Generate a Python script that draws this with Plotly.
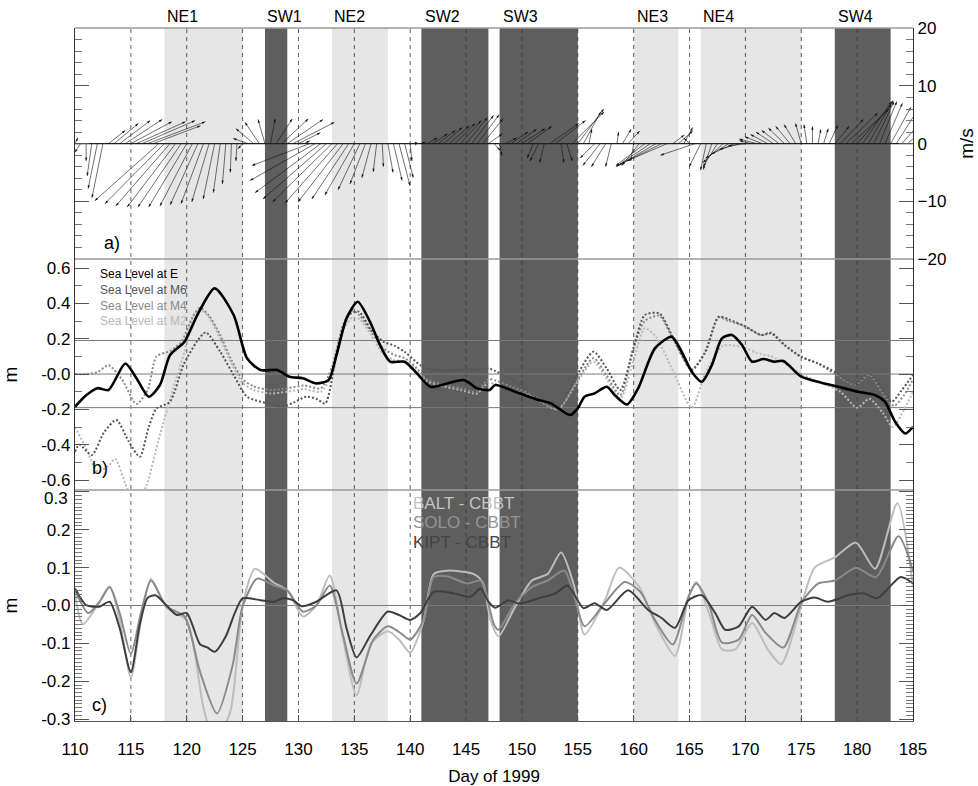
import math
import plotly.graph_objects as go

# ---------------- Panel a: wind sticks (m/s), every 0.5 day from day 110 ----------------
wind_u = [
    0.5, -1.0,   0.0, -0.8,   -1.6, -1.9,   2.9, 4.2,   5.3, 6.4,      # 110-114
    7.1, 8.5,    9.2, 10.0,   8.2, -11.1,   -10.3, -9.4, -8.4, -7.5,   # 115-119
    -6.6, -5.6,  -4.8, -3.9,  -3.0, -2.0,   -1.2, -0.6,  -0.2, -0.2,   # 120-124
    -0.8, -2.6,  -3.1, -2.5,  -1.2, 0.8,    2.8, 4.6,    6.2, 7.2,     # 125-129
    3.8, 1.0,    -10.0, -11.3, -11.4, -11.0, -10.3, -9.1, -7.8, -6.4,  # 130-134
    -5.1, -3.8,  -2.7, -1.6,  -0.6, 0.2,    0.9, 1.5,    1.9, 1.5,     # 135-139
    0.3, 0.0,    0.7, 1.8,    2.6, 3.0,     3.2, 3.5,    3.5, 3.6,     # 140-144
    3.7, 3.8,    3.8, 3.5,    2.4, 1.1,     0.4, 2.0,    3.0, 3.5,     # 145-149
    4.0, 4.2,    -1.0, -1.5,  -0.8, 5.0,    5.2, 0.5,    1.0, 5.5,     # 150-154
    4.5, 3.0,    0.5, -2.5,   -3.0, -2.5,   -1.0, 0.3,   1.5, 2.0,     # 155-159
    -0.5, -3.0,  -5.0, -6.0,  -6.5, -7.0,   -7.0, 2.0,   2.5, 1.5,     # 160-164
    -1.0, -6.0,  -2.0, -1.0,  -1.5, -2.5,   -3.5, -4.0,  -4.0, -3.5,   # 165-169
    -3.0, -2.0,  -3.0, -3.0,  -3.0, -3.0,   -3.0, -2.8,  -2.5, -2.0,   # 170-174
    -1.0, -0.5,  0.0, 0.5,    0.8, 1.5,     2.5, 4.0,    5.5, 6.5,     # 175-179
    6.0, 5.0,    4.3, 3.5,    3.0, 3.0,     3.5, 3.5,    4.0, 4.0,     # 180-184
    3.0,                                                               # 185
]
wind_v = [
    1.0, -1.5,   -3.0, -5.6,  -7.8, -9.4,   2.3, 3.5,    4.0, 4.2,
    3.8, 3.8,    4.0, 3.8,    3.1, -9.9,    -10.4, -10.8, -11.0, -11.0,
    -11.0, -10.8, -10.6, -10.4, -10.1, -9.6, -8.5, -7.0, -5.0, -3.0,
    -0.9, 0.9,   2.6, 3.7,    4.2, 4.3,     4.3, 4.3,    4.2, 3.7,
    1.9, 0.5,    -3.8, -6.4,  -8.5, -9.6,   -10.1, -10.3, -10.1, -9.6,
    -8.9, -8.0,  -7.0, -5.9,  -4.9, -4.0,   -5.0, -6.4,  -7.3, -5.9,
    -3.0, -0.3,  0.3, 1.0,    1.7, 2.3,     2.8, 3.1,    3.5, 4.0,
    4.5, 4.9,    5.0, 4.3,    1.7, -1.2,    -2.1, 1.0,   2.0, 2.5,
    2.6, 3.0,    -2.5, -3.0,  -3.3, 3.5,    4.0, -3.3,   -3.0, 5.5,
    6.0, 5.5,    2.5, -2.5,   -3.8, -4.0,   -4.0, 2.0,   2.5, 2.2,
    -3.0, -3.8,  -3.8, -4.0,  -3.8, -3.5,   -3.0, 1.5,   2.2, 2.8,
    1.0, -2.0,   -4.0, -4.6,  -4.5, -4.0,   -3.3, -2.5,  -1.8, -1.0,
    -0.4, 0.5,   0.8, 1.2,    1.6, 2.0,     2.3, 2.7,    3.0, 3.3,
    3.5, 3.3,    3.0, 2.5,    2.6, 3.2,     3.0, 4.2,    5.3, 6.0,
    6.8, 7.3,    7.5, 7.3,    7.3, 7.0,     6.3, 5.5,    4.5, 3.5,
    2.0,
]
wind_t = [110 + 0.5 * i for i in range(len(wind_u))]

# ---------------- Panel b: sea level (m) ----------------
E_day = [110.0, 111.0, 112.0, 113.0, 114.5, 115.5, 116.6, 117.6, 118.5, 119.8, 121.0, 122.5, 124.2,
         125.4, 126.6, 128.1, 129.2, 130.4, 131.6, 132.7, 133.4, 134.3, 135.3, 136.4, 137.3, 138.2,
         139.5, 140.6, 141.8, 143.3, 144.8, 146.0, 147.1, 147.6, 149.4, 151.5, 152.6, 154.3, 155.0,
         155.6, 156.5, 157.6, 158.3, 159.4, 160.4, 161.9, 163.4, 164.3, 165.2, 166.1, 167.0, 167.9,
         168.8, 169.7, 170.6, 171.6, 172.6, 173.4, 175.0, 176.8, 178.3, 180.1, 181.6, 182.5, 183.4,
         184.3, 185.0]
E_val = [-0.185, -0.12, -0.08, -0.09, 0.06, -0.024, -0.128, -0.062, 0.107, 0.183, 0.34, 0.485, 0.334,
         0.089, 0.023, 0.023, -0.015, -0.024, -0.053, -0.034, 0.107, 0.315, 0.409, 0.296, 0.164, 0.07,
         0.07, 0.004, -0.072, -0.053, -0.034, -0.081, -0.09, -0.062, -0.10, -0.147, -0.166, -0.232, -0.194,
         -0.128, -0.109, -0.072, -0.119, -0.172, -0.081, 0.145, 0.211, 0.126, 0.013, -0.044, 0.051, 0.202,
         0.221, 0.164, 0.07, 0.085, 0.07, 0.074, -0.015, -0.049, -0.072, -0.10, -0.119, -0.157, -0.27,
         -0.336, -0.298]

M6_day = [110.0, 110.4, 111.5, 112.6, 113.7, 114.8, 115.8, 116.6, 117.3, 118.5, 119.7, 120.9, 121.7,
          123.0, 124.2, 125.4, 127.2, 128.6, 129.6, 130.7, 131.6, 132.4, 133.4, 134.5, 135.4, 136.5,
          137.6, 138.6, 139.5, 140.9, 142.0, 144.0, 146.0, 147.0, 149.3, 151.7, 153.2, 154.8, 156.4,
          157.6, 158.8, 160.0, 161.0, 162.3, 163.7, 165.2, 166.4, 167.6, 168.5, 170.0, 171.4, 172.3,
          173.5, 175.0, 176.5, 178.0, 179.8, 181.1, 182.2, 183.1, 184.0, 185.0]
M6_val = [-0.44, -0.40, -0.458, -0.33, -0.26, -0.38, -0.468, -0.30, -0.194, -0.157, 0.051, 0.183, 0.236,
          0.126, -0.006, -0.128, -0.166, -0.185, -0.16, -0.128, -0.14, -0.166, 0.107, 0.334, 0.353, 0.25,
          0.183, 0.16, 0.126, 0.051, 0.023, 0.02, 0.025, 0.032, -0.04, -0.15, -0.19, -0.02, 0.126,
          0.03, -0.09, 0.15, 0.334, 0.343, 0.183, 0.023, 0.126, 0.324, 0.31, 0.268, 0.221, 0.23,
          0.164, 0.098, 0.06, 0.013, -0.053, 0.004, -0.08, -0.157, -0.09, -0.006]

M4_day = [110.0, 111.0, 112.0, 113.0, 114.2, 115.5, 116.5, 117.3, 118.5, 119.5, 120.5, 121.2, 122.0,
          123.0, 124.0, 125.0, 126.0, 127.5, 129.0, 130.5, 132.0, 133.0, 134.0, 134.8, 135.5, 136.5,
          137.5, 138.5, 139.5, 140.5, 141.5, 143.0, 144.5, 146.0, 147.0, 149.0, 151.0, 153.2, 154.8,
          156.4, 157.6, 158.8, 160.0, 161.0, 162.3, 163.5, 165.2, 166.4, 167.6, 168.5, 170.0, 171.4,
          172.3, 173.6, 175.0, 176.5, 178.0, 179.8, 181.1, 182.3, 183.3, 184.2, 185.0]
M4_val = [0.0, 0.0, 0.01, 0.05, -0.03, -0.17, -0.09, 0.10, 0.13, 0.18, 0.32, 0.375, 0.33,
          0.22, 0.08, -0.03, -0.07, -0.09, -0.08, -0.065, -0.08, 0.04, 0.28, 0.36, 0.33, 0.24,
          0.15, 0.11, 0.09, 0.04, -0.03, -0.06, -0.08, -0.10, -0.03, -0.07, -0.12, -0.20, -0.05,
          0.09, -0.01, -0.12, 0.15, 0.30, 0.33, 0.20, 0.03, 0.12, 0.32, 0.30, 0.27, 0.22,
          0.235, 0.16, 0.095, 0.06, 0.0, -0.06, -0.005, -0.11, -0.18, -0.12, -0.03]

M2_day = [110.0, 111.0, 112.0, 113.0, 113.6, 114.5, 115.5, 116.4, 117.6, 118.8, 119.8, 120.7, 121.3,
          122.0, 123.0, 124.0, 125.0, 126.0, 127.5, 129.0, 130.5, 132.0, 133.0, 134.0, 134.8, 135.5,
          136.5, 137.5, 138.5, 139.5, 140.5, 141.5, 143.0, 144.5, 146.0, 147.0, 149.0, 151.0, 153.2,
          154.8, 156.4, 157.6, 158.8, 160.0, 161.0, 162.0, 163.5, 165.2, 166.4, 168.0, 169.9, 171.0,
          172.3, 173.8, 175.0, 176.8, 178.5, 180.0, 181.1, 182.3, 183.2, 184.2, 185.0]
M2_val = [-0.30, -0.42, -0.55, -0.52, -0.48, -0.62, -0.75, -0.63, -0.345, -0.08, 0.126, 0.343, 0.36,
          0.32, 0.20, 0.06, -0.05, -0.09, -0.11, -0.10, -0.085, -0.10, 0.0, 0.25, 0.32, 0.31,
          0.22, 0.12, 0.08, 0.07, 0.03, -0.04, -0.07, -0.09, -0.11, -0.05, -0.09, -0.13, -0.20,
          -0.06, 0.07, -0.03, -0.14, 0.08, 0.26, 0.21, 0.02, -0.19, 0.0, 0.16, 0.15, 0.12,
          0.10, 0.05, 0.0, -0.05, -0.10, -0.19, -0.14, -0.22, -0.30, -0.20, -0.10]

# ---------------- Panel c: sea level differences (m) ----------------
KIPT_day = [110.0, 111.0, 112.2, 113.1, 114.0, 115.0, 115.8, 116.5, 117.2, 118.2, 119.1, 120.0, 121.2,
            121.8, 122.5, 123.5, 124.3, 125.0, 126.6, 127.8, 128.6, 129.5, 130.3, 131.6, 133.4, 134.3,
            135.2, 136.4, 138.0, 139.0, 140.0, 140.9, 142.1, 143.9, 145.4, 146.3, 147.0, 147.6, 148.8,
            149.7, 151.5, 153.0, 154.1, 155.5, 156.5, 157.6, 159.5, 161.3, 162.5, 163.7, 164.9, 166.1,
            167.3, 168.2, 169.4, 170.6, 171.8, 172.6, 173.5, 175.0, 176.2, 177.4, 179.2, 180.6, 181.8,
            183.9, 185.0]
KIPT_val = [0.045, 0.001, -0.003, 0.01, -0.06, -0.176, -0.05, 0.02, 0.027, 0.0, -0.025, -0.02, -0.103,
            -0.11, -0.122, -0.081, -0.02, 0.019, 0.014, 0.01, 0.019, 0.014, -0.002, 0.01, 0.04, -0.06,
            -0.137, -0.081, -0.016, -0.025, -0.038, -0.02, 0.036, 0.032, 0.023, 0.045, 0.01, -0.006, 0.014,
            0.005, 0.019, 0.032, 0.053, -0.007, 0.006, -0.012, 0.04, -0.012, -0.033, -0.059, 0.014, 0.027,
            -0.02, -0.064, -0.055, -0.003, -0.038, -0.02, -0.033, 0.01, 0.021, 0.01, 0.027, 0.032, 0.019,
            0.075, 0.058]

SOLO_day = [110.0, 111.2, 112.2, 113.1, 114.0, 115.0, 115.9, 116.8, 118.2, 119.8, 121.2, 122.7, 124.1,
            125.0, 126.3, 127.8, 129.0, 130.4, 131.6, 132.8, 134.0, 135.2, 136.7, 138.0, 139.0, 140.0,
            141.2, 142.1, 143.3, 145.1, 146.3, 146.8, 147.5, 147.9, 149.4, 150.9, 152.3, 153.8, 154.7,
            155.6, 157.4, 159.2, 160.6, 161.9, 163.5, 164.9, 165.6, 166.7, 167.9, 169.4, 170.6, 171.8,
            173.4, 175.0, 176.5, 178.0, 179.9, 181.7, 183.7, 185.0]
SOLO_val = [0.04, -0.02, 0.01, 0.049, -0.02, -0.128, -0.02, 0.066, -0.003, -0.029, -0.176, -0.285, -0.159,
            -0.003, 0.071, 0.053, 0.04, -0.016, 0.0, 0.053, -0.08, -0.206, -0.09, -0.055, -0.07, -0.09,
            -0.038, 0.075, 0.077, 0.058, 0.066, 0.03, -0.05, -0.064, 0.006, 0.049, 0.066, 0.092, 0.023,
            -0.055, 0.006, 0.062, 0.036, -0.038, -0.103, 0.023, 0.058, 0.006, -0.098, -0.09, -0.025, -0.072,
            -0.111, 0.006, 0.058, 0.066, 0.10, 0.075, 0.183, 0.092]

BALT_day = [110.0, 110.7, 112.0, 113.1, 114.0, 115.0, 115.9, 116.8, 118.2, 120.0, 121.5, 122.5, 123.9,
            125.0, 126.1, 127.8, 129.0, 130.4, 131.6, 132.8, 134.0, 135.2, 136.5, 138.0, 139.0, 140.0,
            141.2, 142.1, 143.3, 145.7, 146.5, 147.2, 147.9, 149.4, 150.9, 152.3, 153.5, 154.7, 155.6,
            157.4, 158.7, 160.5, 161.9, 163.7, 164.9, 165.6, 166.8, 167.9, 169.1, 170.6, 172.0, 173.2,
            175.0, 176.2, 178.0, 179.9, 181.6, 183.6, 185.0]
BALT_val = [0.03, -0.05, 0.0, 0.05, -0.04, -0.19, -0.04, 0.07, -0.006, -0.04, -0.27, -0.36, -0.28,
            0.0, 0.097, 0.06, 0.04, -0.029, 0.0, 0.079, -0.09, -0.237, -0.10, -0.068, -0.09, -0.124,
            -0.04, 0.083, 0.092, 0.083, 0.06, -0.04, -0.081, -0.003, 0.066, 0.083, 0.14, 0.049, -0.077,
            0.012, 0.10, 0.049, -0.046, -0.133, 0.02, 0.062, -0.025, -0.116, -0.116, -0.046, -0.116, -0.155,
            0.0, 0.10, 0.127, 0.166, 0.097, 0.27, 0.05]

# ---------------- Monsoon-period shading and labels ----------------
light_bands = [(118, 125), (133, 138), (160, 164), (166, 175)]
dark_bands = [(127, 129), (141, 147), (148, 155), (178, 183)]
period_names = ["NE1", "SW1", "NE2", "SW2", "SW3", "NE3", "NE4", "SW4"]
period_x = [119.6, 128.75, 134.6, 142.85, 149.9, 161.7, 167.6, 179.85]
dash_days = [115, 120, 125, 130, 135, 140, 145, 150, 155, 160, 165, 170, 175, 180]
x_ticks = [110, 115, 120, 125, 130, 135, 140, 145, 150, 155, 160, 165, 170, 175, 180, 185]

FONT = "Liberation Sans, Arial, sans-serif"
W, H = 978, 786
ML, MR, MT, MB = 75, 65, 28, 65
XR = (110, 185)
YA = (-20, 20.05)
YB = (-0.656, 0.651)
YC = (-0.305, 0.305)
PH = H - MT - MB


def py(ypix):
    """paper y for a pixel row of the page"""
    return (H - MB - ypix) / PH


fig = go.Figure()

# stick scale so that 1 m/s is the same length horizontally and vertically
px_per_day = (W - ML - MR) / (XR[1] - XR[0])
px_per_ms = PH / 3 / (YA[1] - YA[0])
K = px_per_ms / px_per_day

sx, sy = [], []
tipx, tipy, ang = [], [], []
for t, u, v in zip(wind_t, wind_u, wind_v):
    sx += [t, t + K * u, None]
    sy += [0, v, None]
    tipx.append(t + K * u)
    tipy.append(v)
    ang.append(math.degrees(math.atan2(u, v)))

fig.add_trace(go.Scatter(x=sx, y=sy, mode="lines", yaxis="y3",
                         line=dict(color="#111111", width=0.6), hoverinfo="skip", showlegend=False))
fig.add_trace(go.Scatter(x=tipx, y=tipy, mode="markers", yaxis="y3",
                         marker=dict(symbol="arrow", size=3.5, angle=ang, color="#111111",
                                     line=dict(width=0)),
                         hoverinfo="skip", showlegend=False))

# panel b
for d, v, col, dash, w in [(M2_day, M2_val, "#b8b8b8", "2px,2px", 2.0),
                           (M4_day, M4_val, "#8a8a8a", "2px,2px", 2.0),
                           (M6_day, M6_val, "#555555", "2px,2px", 2.0),
                           (E_day, E_val, "#000000", "solid", 2.6)]:
    fig.add_trace(go.Scatter(x=d, y=v, mode="lines", yaxis="y2",
                             line=dict(color=col, width=w, dash=dash, shape="spline", smoothing=0.7),
                             showlegend=False))

# panel c
for d, v, col in [(BALT_day, BALT_val, "#bdbdbd"),
                  (SOLO_day, SOLO_val, "#8a8a8a"),
                  (KIPT_day, KIPT_val, "#3e3e3e")]:
    fig.add_trace(go.Scatter(x=d, y=v, mode="lines", yaxis="y",
                             line=dict(color=col, width=2, shape="spline", smoothing=0.7),
                             showlegend=False))

shapes = []
for a, b in light_bands:
    shapes.append(dict(type="rect", xref="x", yref="paper", x0=a, x1=b, y0=0, y1=1,
                       fillcolor="#e6e6e6", line=dict(width=0), layer="below"))
for a, b in dark_bands:
    shapes.append(dict(type="rect", xref="x", yref="paper", x0=a, x1=b, y0=0, y1=1,
                       fillcolor="#5e5e5e", line=dict(width=0), layer="below"))
for d in dash_days:
    shapes.append(dict(type="line", xref="x", yref="paper", x0=d, x1=d, y0=0, y1=1,
                       line=dict(color="#333333", width=0.8, dash="4px,4px"), layer="below"))
for yp in [1 / 3, 2 / 3, 1.0]:
    shapes.append(dict(type="line", xref="paper", yref="paper", x0=0, x1=1, y0=yp, y1=yp,
                       line=dict(color="#9a9a9a", width=1.5), layer="below"))
for yv in [0.19, 0.0, -0.19]:
    shapes.append(dict(type="line", xref="paper", yref="y2", x0=0, x1=1, y0=yv, y1=yv,
                       line=dict(color="#7a7a7a", width=1), layer="below"))
shapes.append(dict(type="line", xref="paper", yref="y", x0=0, x1=1, y0=0, y1=0,
                   line=dict(color="#7a7a7a", width=1), layer="below"))
shapes.append(dict(type="line", xref="paper", yref="y3", x0=0, x1=1, y0=0, y1=0,
                   line=dict(color="#222222", width=1.2), layer="below"))

ann = []
for n, xp in zip(period_names, period_x):
    ann.append(dict(text=n, x=xp, xref="x", y=1, yref="paper", yanchor="bottom", yshift=1,
                    showarrow=False, font=dict(family=FONT, size=16, color="black")))
for txt, xd, yp in [("a)", 113.3, 243), ("b)", 112.2, 468), ("c)", 112.2, 705)]:
    ann.append(dict(text=txt, x=xd, xref="x", xanchor="center", y=py(yp), yref="paper",
                    yanchor="middle", showarrow=False,
                    font=dict(family=FONT, size=18, color="black")))
for txt, ypix, col in [("Sea Level at E", 274, "#000000"), ("Sea Level at M6", 290, "#555555"),
                       ("Sea Level at M4", 306, "#8a8a8a"), ("Sea Level at M2", 321, "#b8b8b8")]:
    ann.append(dict(text=txt, x=112.05, xref="x", xanchor="left", y=py(ypix), yref="paper",
                    yanchor="middle", showarrow=False, font=dict(family=FONT, size=12, color=col)))
for txt, ypix, col in [("BALT - CBBT", 503, "#c4c4c4"), ("SOLO - CBBT", 522, "#949494"),
                       ("KIPT - CBBT", 542, "#444444")]:
    ann.append(dict(text=txt, x=140.05, xref="x", xanchor="left", y=py(ypix), yref="paper",
                    yanchor="middle", showarrow=False, font=dict(family=FONT, size=17, color=col)))
# top label of panel c sits a little below its tick, as in the original
ann.append(dict(text="0.3", x=0, xref="paper", xanchor="right", xshift=-5, y=py(498), yref="paper",
                yanchor="middle", showarrow=False, font=dict(family=FONT, size=17, color="black")))

tickfont = dict(family=FONT, size=17, color="black")
fig.update_layout(
    width=W, height=H,
    margin=dict(l=ML, r=MR, t=MT, b=MB, pad=0, autoexpand=False),
    paper_bgcolor="white", plot_bgcolor="white",
    showlegend=False,
    shapes=shapes, annotations=ann,
    xaxis=dict(domain=[0, 1], range=list(XR), anchor="y", tickvals=x_ticks, automargin=False,
               ticks="inside", ticklen=6, tickcolor="#555", showline=True, linecolor="#555",
               linewidth=1.2, showgrid=False, zeroline=False, tickfont=tickfont,
               ticklabelstandoff=12,
               title=dict(text="Day of 1999", font=dict(family=FONT, size=17, color="black"),
                          standoff=12)),
    yaxis=dict(domain=[0, 1 / 3], range=list(YC), anchor="x", automargin=False,
               tickvals=[-0.3, -0.2, -0.1, 0, 0.1, 0.2, 0.3],
               ticktext=["-0.3", "-0.2", "-0.1", "-0.0", "0.1", "0.2", ""],
               ticks="inside", ticklen=14, tickcolor="#555", mirror="ticks",
               minor=dict(dtick=0.01, ticklen=7, ticks="inside", tickcolor="#777"),
               showline=True, linecolor="#333", linewidth=1.2, showgrid=False, zeroline=False,
               tickfont=tickfont,
               title=dict(text="m", font=dict(family=FONT, size=19, color="black"), standoff=18)),
    yaxis2=dict(domain=[1 / 3, 2 / 3], range=list(YB), anchor="x", automargin=False,
                tickvals=[-0.6, -0.4, -0.2, 0, 0.2, 0.4, 0.6],
                ticktext=["-0.6", "-0.4", "-0.2", "-0.0", "0.2", "0.4", "0.6"],
                ticks="inside", ticklen=14, tickcolor="#555", mirror="ticks",
                minor=dict(dtick=0.1, ticklen=7, ticks="inside", tickcolor="#777"),
                showline=True, linecolor="#333", linewidth=1.2, showgrid=False, zeroline=False,
                tickfont=tickfont,
                title=dict(text="m", font=dict(family=FONT, size=19, color="black"), standoff=18)),
    yaxis3=dict(domain=[2 / 3, 1], range=list(YA), anchor="x", side="right", automargin=False,
                tickvals=[-20, -10, 0, 10, 20],
                ticks="inside", ticklen=14, tickcolor="#555", mirror="ticks",
                minor=dict(dtick=2, ticklen=7, ticks="inside", tickcolor="#777"),
                showline=True, linecolor="#333", linewidth=1.2, showgrid=False, zeroline=False,
                tickfont=tickfont,
                title=dict(text="m/s", font=dict(family=FONT, size=19, color="black"), standoff=14)),
)

fig.write_html("out.html")
